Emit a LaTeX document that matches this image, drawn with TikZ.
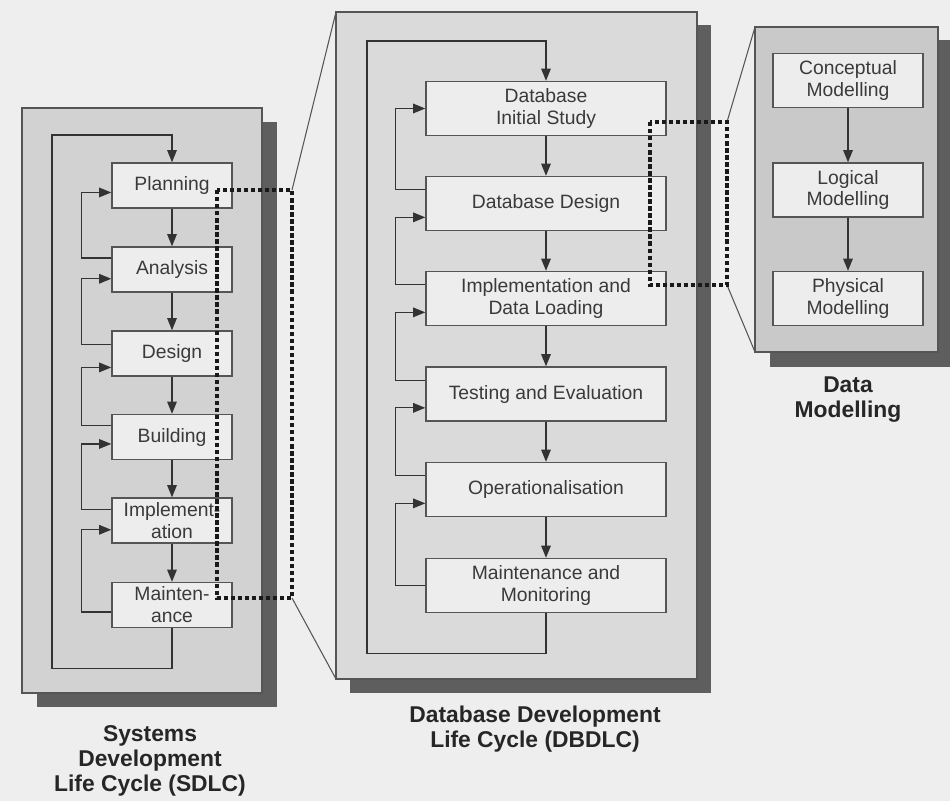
\documentclass[tikz,border=0pt]{standalone}
\usepackage{fontspec}
\setmainfont{Liberation Sans}
\usetikzlibrary{arrows.meta,positioning,calc}

\definecolor{bgcol}{HTML}{EEEEEE}
\definecolor{sdlcfill}{HTML}{D2D2D2}
\definecolor{dbfill}{HTML}{DADADA}
\definecolor{dmfill}{HTML}{C9C9C9}
\definecolor{shadowcol}{HTML}{5E5E5E}
\definecolor{boxfill}{HTML}{EDEDED}
\definecolor{linecol}{HTML}{555555}
\definecolor{txtcol}{HTML}{3A3A3A}

\tikzset{
  panel/.style={draw=linecol, line width=1pt},
  stage/.style={draw=linecol, fill=boxfill, line width=0.8pt, text=txtcol, align=center,
    font=\fontsize{11}{12.5}\selectfont, inner sep=1pt},
  sbox/.style={stage, minimum width=2.4cm, minimum height=0.9cm},
  dbox/.style={stage, minimum width=4.8cm, minimum height=1.08cm},
  mbox/.style={stage, minimum width=3cm, minimum height=1.08cm},
  flow/.style={draw=black!80, line width=0.7pt, -{Triangle[length=7pt,width=5.5pt]}},
  zoomline/.style={draw=linecol, line width=0.6pt},
  focus/.style={draw=black!90, line width=2pt, dash pattern=on 2.5pt off 1.5pt},
  caption/.style={font=\fontsize{13}{14.2}\selectfont\bfseries, text=black!85, align=center}
}

\begin{document}
\begin{tikzpicture}[x=0.02cm, y=-0.02cm]
\useasboundingbox (0,0) rectangle (950,801);
\fill[bgcol] (0,0) rectangle (950,801);

% panels with their shadows
\fill[shadowcol] (37,122) rectangle (277,707);
\draw[panel, fill=sdlcfill] (22,108) rectangle (262,693);
\fill[shadowcol] (350,25) rectangle (711,693);
\draw[panel, fill=dbfill] (336,12) rectangle (697,679);
\fill[shadowcol] (770,40) rectangle (950,367);
\draw[panel, fill=dmfill] (755,27) rectangle (938,352);

% corners of the zoom frames
\coordinate (sdtop) at (292,190);
\coordinate (sdbot) at (292,598);
\coordinate (dbtop) at (727,122);
\coordinate (dbbot) at (727,285);

% zoom lines
\draw[zoomline] (sdtop) -- (336,12);
\draw[zoomline] (sdbot) -- (336,679);
\draw[zoomline] (dbtop) -- (755,27);
\draw[zoomline] (dbbot) -- (755,352);

% SDLC stages
\node[sbox] (plan) at (172,185.5) {Planning};
\node[sbox] (ana)  at (172,269.5) {Analysis};
\node[sbox] (des)  at (172,353.5) {Design};
\node[sbox] (bld)  at (172,437)   {Building};
\node[sbox] (imp)  at (172,520.5) {Implement-\\ation};
\node[sbox] (mnt)  at (172,605)   {Mainten-\\ance};

\draw[flow] (plan) -- (ana);
\draw[flow] (ana) -- (des);
\draw[flow] (des) -- (bld);
\draw[flow] (bld) -- (imp);
\draw[flow] (imp) -- (mnt);

% SDLC feedback
\draw[flow] ($(ana.north west)!0.25!(ana.south west)$) -- ++(-30,0) |- ($(plan.north west)!0.65!(plan.south west)$);
\draw[flow] ($(des.north west)!0.3!(des.south west)$) -- ++(-30,0) |- ($(ana.north west)!0.7!(ana.south west)$);
\draw[flow] ($(bld.north west)!0.25!(bld.south west)$) -- ++(-30,0) |- ($(des.north west)!0.8!(des.south west)$);
\draw[flow] ($(imp.north west)!0.27!(imp.south west)$) -- ++(-30,0) |- ($(bld.north west)!0.65!(bld.south west)$);
\draw[flow] ($(mnt.north west)!0.65!(mnt.south west)$) -- ++(-30,0) |- ($(imp.north west)!0.7!(imp.south west)$);
\draw[flow] (mnt.south) -- ++(0,40) -| (52,135) -| (plan.north);

% DBDLC stages
\node[dbox] (study) at (546,108.5) {Database\\Initial Study};
\node[dbox] (ddes)  at (546,203.5) {Database Design};
\node[dbox] (load)  at (546,298.5) {Implementation and\\Data Loading};
\node[dbox] (test)  at (546,394)   {Testing and Evaluation};
\node[dbox] (oper)  at (546,489.5) {Operationalisation};
\node[dbox] (monit) at (546,585.5) {Maintenance and\\Monitoring};

\draw[flow] (study) -- (ddes);
\draw[flow] (ddes) -- (load);
\draw[flow] (load) -- (test);
\draw[flow] (test) -- (oper);
\draw[flow] (oper) -- (monit);

% DBDLC feedback
\draw[flow] ($(ddes.north west)!0.25!(ddes.south west)$) -- ++(-30,0) |- (study.west);
\draw[flow] ($(load.north west)!0.25!(load.south west)$) -- ++(-30,0) |- ($(ddes.north west)!0.75!(ddes.south west)$);
\draw[flow] ($(test.north west)!0.25!(test.south west)$) -- ++(-30,0) |- ($(load.north west)!0.75!(load.south west)$);
\draw[flow] ($(oper.north west)!0.25!(oper.south west)$) -- ++(-30,0) |- ($(test.north west)!0.75!(test.south west)$);
\draw[flow] (monit.west) -- ++(-30,0) |- ($(oper.north west)!0.75!(oper.south west)$);
\draw[flow] (monit.south) -- ++(0,40) -| (367,41) -| (study.north);

% data modelling stages
\node[mbox] (concept) at (848,80.5) {Conceptual\\Modelling};
\node[mbox] (logic)   at (848,190)  {Logical\\Modelling};
\node[mbox] (phys)    at (848,298.5) {Physical\\Modelling};

\draw[flow] (concept) -- (logic);
\draw[flow] (logic) -- (phys);

% zoom frames
\draw[focus] (217,190) rectangle (sdbot);
\draw[focus] (650,122) rectangle (dbbot);

% captions
\node[caption] (sdlclbl) at (150,761) {Systems\\Development\\Life Cycle (SDLC)};
\node[caption] (dblbl)   at (535,729) {Database Development\\Life Cycle (DBDLC)};
\node[caption] (dmlbl)   at (848,400) {Data\\Modelling};
\end{tikzpicture}
\end{document}
